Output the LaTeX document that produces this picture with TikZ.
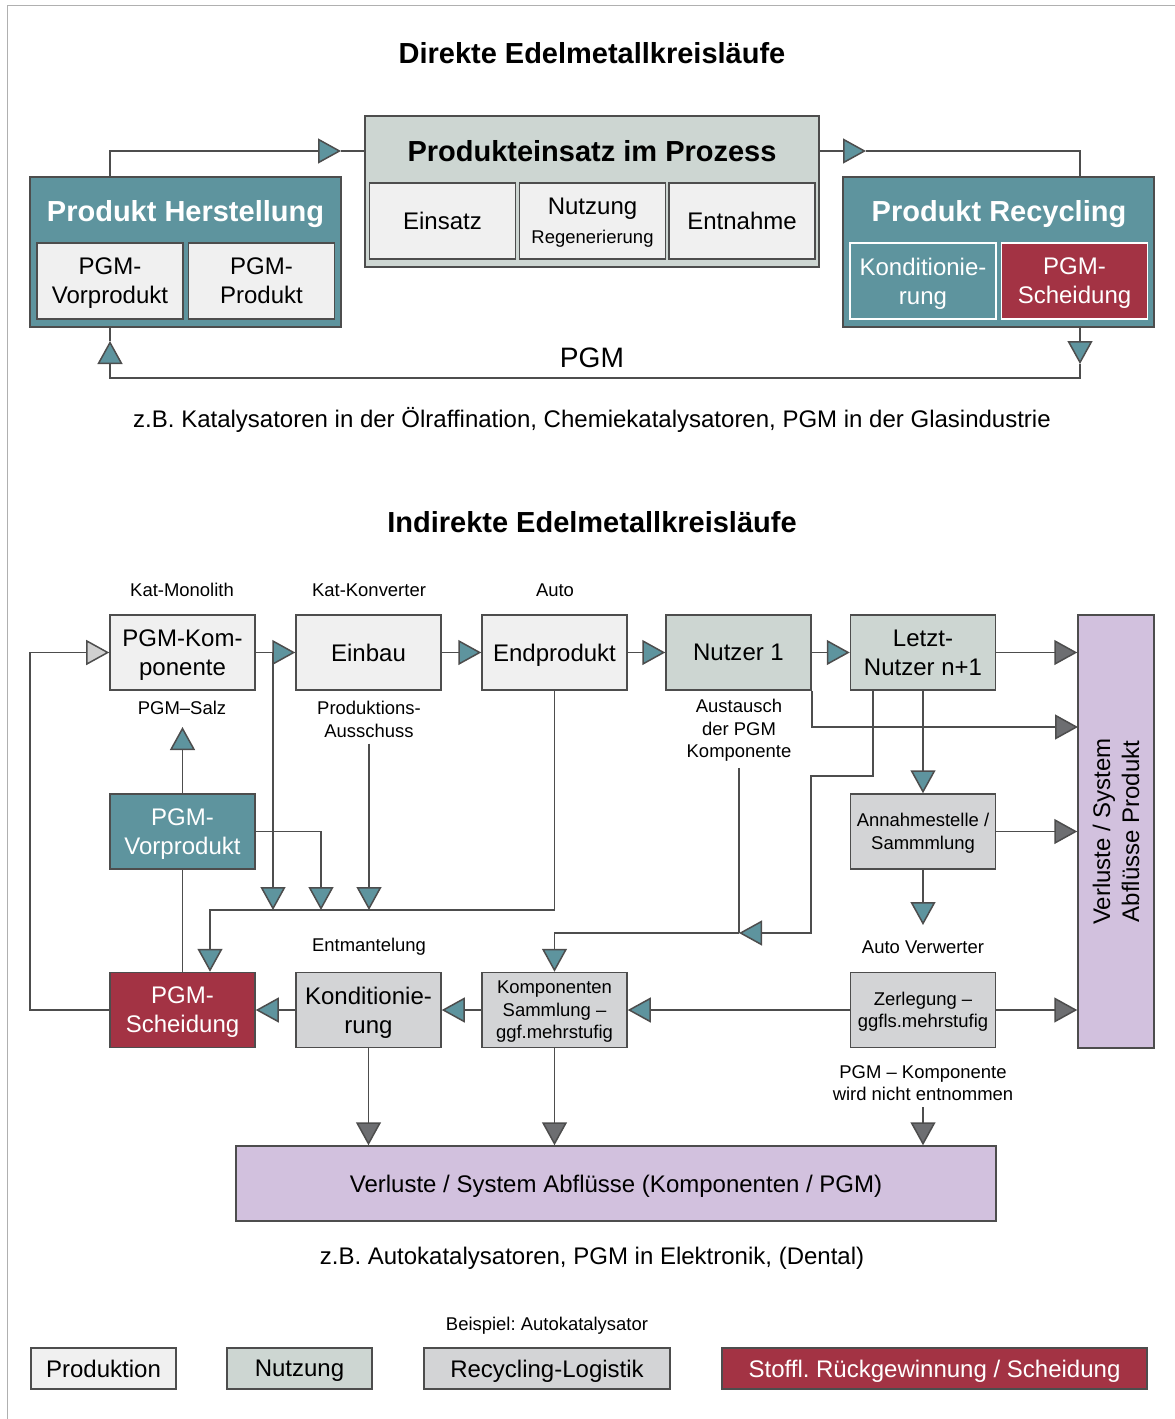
\documentclass[tikz,border=0pt]{standalone}
\usepackage{fontspec}
\setmainfont{Liberation Sans}
\frenchspacing
\definecolor{prodfill}{RGB}{240, 240, 240}
\definecolor{usefill}{RGB}{205, 214, 210}
\definecolor{logfill}{RGB}{211, 212, 214}
\definecolor{lossfill}{RGB}{210, 193, 222}
\definecolor{tealc}{RGB}{94, 148, 158}
\definecolor{redc}{RGB}{163, 51, 68}
\definecolor{linec}{RGB}{77, 77, 77}
\definecolor{tipgray}{RGB}{109, 110, 113}
\definecolor{tiplight}{RGB}{208, 208, 208}
\definecolor{framec}{RGB}{176, 176, 176}
\usepackage{tikz}
\usetikzlibrary{arrows.meta, positioning, calc}
\newcommand{\fhead}{\fontsize{16.5}{19.5}\selectfont\bfseries}
\newcommand{\fbody}{\fontsize{13.66}{16.5}\selectfont}
\newcommand{\fsmall}{\fontsize{10.5}{12.8}\selectfont}
\newcommand{\fpgm}{\fontsize{16}{19}\selectfont}
\tikzset{
    box/.style={rectangle, draw=linec, line width=0.3mm, minimum width=29mm, minimum height=15mm, align=center, inner sep=1pt, text depth=0pt, font=\fbody},
    prodbox/.style={box, fill=prodfill},
    usebox/.style={box, fill=usefill},
    logbox/.style={box, fill=logfill},
    prebox/.style={box, fill=tealc, text=white},
    sepbox/.style={box, fill=redc, text=white},
    lossbox/.style={box, fill=lossfill},
    head/.style={font=\fhead, align=center, text depth=0pt},
    lbl/.style={font=\fsmall, align=center},
    captext/.style={font=\fbody, align=center},
    conn/.style={draw=linec, line width=0.3mm},
    flow/.style={conn, -{Triangle[length=4.6mm, width=5mm, fill=tealc]}},
    lossflow/.style={conn, -{Triangle[length=4.6mm, width=5mm, fill=tipgray]}},
    backflow/.style={conn, -{Triangle[length=4.6mm, width=5mm, fill=tiplight]}}
}
\begin{document}
\begin{tikzpicture}[x=0.2mm, y=-0.2mm]
    \useasboundingbox (0,0) rectangle (1175,1419);
    % Frame
    \draw[framec, line width=0.35mm] (7.5,1419) -- (7.5,5.5) -- (1175,5.5);

    % Direct cycles
    \node[head] (title1) at (592,53) {Direkte Edelmetallkreisläufe};

    \node[prebox, minimum width=62.2mm, minimum height=30mm] (herst) at (185.5,252) {};
    \node[head, text=white] (hersttitle) at (185.5,211) {Produkt Herstellung};
    \node[prodbox, minimum width=29.2mm, minimum height=15.2mm] (hvor) at (110,281) {PGM-\\Vorprodukt};
    \node[prodbox, minimum width=29.2mm, minimum height=15.2mm] (hprod) at (261.5,281) {PGM-\\Produkt};

    \node[usebox, minimum width=90.8mm, minimum height=30.2mm] (proz) at (592,191.5) {};
    \node[head] (proztitle) at (592,151) {Produkteinsatz im Prozess};
    \node[prodbox, minimum width=29.2mm, minimum height=15.2mm] (einsatz) at (442.5,221) {Einsatz};
    \node[prodbox, minimum width=29.2mm, minimum height=15.2mm] (nutzung) at (592.5,221) {Nutzung\\{\fsmall Regenerierung}};
    \node[prodbox, minimum width=29.2mm, minimum height=15.2mm] (entnahme) at (742,221) {Entnahme};

    \node[prebox, minimum width=62.2mm, minimum height=30mm] (recyc) at (998.5,252) {};
    \node[head, text=white] (recyctitle) at (999,211) {Produkt Recycling};
    \node[prebox, draw=white, minimum width=29.2mm, minimum height=15.2mm] (rkond) at (923,281) {Konditionie-\\rung};
    \node[sepbox, draw=white, minimum width=29.2mm, minimum height=15.2mm] (rscheid) at (1074.5,281) {PGM-\\Scheidung};

    \coordinate (t1) at (341,151);
    \coordinate (t2) at (866,151);
    \coordinate (t3) at (1080,364);
    \coordinate (t4) at (110,341);
    \draw[flow] (hvor.north |- herst.north) |- (t1);
    \draw[conn] (t1) -- (t1 -| proz.west);
    \draw[flow] (t2 -| proz.east) -- (t2);
    \draw[conn] (t2) -| (t3 |- recyc.north);
    \draw[flow] (t3 |- recyc.south) -- (t3);
    \draw[flow] (t3) -- ++(0,14) -| (t4);
    \draw[conn] (t4) -- (t4 |- herst.south);

    \node[font=\fpgm] (pgm) at (592,358) {PGM};
    \node[captext] (cap1) at (592,420) {z.B. Katalysatoren in der Ölraffination, Chemiekatalysatoren, PGM in der Glasindustrie};

    % Indirect cycles
    \node[head] (title2) at (592,522) {Indirekte Edelmetallkreisläufe};

    \node[prodbox] (komp) at (182.5,652.5) {PGM-Kom-\\ponente};
    \node[prodbox] (einbau) at (368.5,652.5) {Einbau};
    \node[prodbox] (endp) at (554.5,652.5) {Endprodukt};
    \node[usebox] (nutz1) at (738.5,652.5) {Nutzer 1};
    \node[usebox] (letzt) at (923,652.5) {Letzt-\\Nutzer n+1};
    \node[lossbox, minimum width=15.2mm, minimum height=86.6mm] (verlv) at (1116,831.5) {};
    \node[rotate=90, font=\fbody, align=center] (verlvtext) at (verlv) {Verluste / System\\Abflüsse Produkt};

    \node[prebox] (vorp) at (182.5,831.5) {PGM-\\Vorprodukt};
    \node[logbox, font=\fsmall] (annahme) at (923,831.5) {Annahmestelle /\\Sammmlung};

    \node[sepbox] (scheid) at (182.5,1010) {PGM-\\Scheidung};
    \node[logbox] (kond) at (368.5,1010) {Konditionie-\\rung};
    \node[logbox, font=\fsmall] (ksamm) at (554.5,1010) {Komponenten\\Sammlung --\\ggf.mehrstufig};
    \node[logbox, font=\fsmall] (zerleg) at (923,1010) {Zerlegung --\\ggfls.mehrstufig};

    \node[lossbox, minimum width=152mm] (verlh) at (616,1183.5) {Verluste / System Abflüsse (Komponenten / PGM)};

    % Labels
    \node[lbl] (lmono) at (182,590) {Kat-Monolith};
    \node[lbl] (lkonv) at (369,590) {Kat-Konverter};
    \node[lbl] (lauto) at (555,590) {Auto};
    \node[lbl] (lsalz) at (182,708) {PGM--Salz};
    \node[lbl] (laus) at (369,719.5) {Produktions-\\Ausschuss};
    \node[lbl] (ltausch) at (739,730.5) {Austausch\\der PGM\\Komponente};
    \node[lbl] (lentm) at (369,947) {Entmantelung};
    \node[lbl] (lverw) at (923,947) {Auto Verwerter};
    \node[lbl] (lnicht) at (923,1083) {PGM -- Komponente\\wird nicht entnommen};
    \node[captext] (cap2) at (592,1258) {z.B. Autokatalysatoren, PGM in Elektronik, (Dental)};

    \coordinate (m0) at (210,910);
    \coordinate (m1) at (273,910);
    \coordinate (m2) at (321,910);
    \coordinate (m3) at (369,910);
    \coordinate (s1) at (182.5,727);
    \coordinate (v1) at (1078,727);
    \coordinate (k0) at (873,776);
    \coordinate (k1) at (811,776);
    \coordinate (k2) at (739,933);
    \coordinate (k3) at (923,925);

    % Arrows
    \draw[flow] (komp) -- (einbau);
    \draw[flow] (einbau) -- (endp);
    \draw[flow] (endp) -- (nutz1);
    \draw[flow] (nutz1) -- (letzt);
    \draw[lossflow] (letzt) -- (letzt -| verlv.west);
    \draw[lossflow] (nutz1.south east) |- (v1);
    \draw[flow] (letzt) -- (annahme);
    \draw[lossflow] (annahme) -- (annahme -| verlv.west);
    \draw[flow] (annahme) -- (k3);
    \draw[lossflow] (zerleg) -- (zerleg -| verlv.west);
    \draw[flow] (zerleg) -- (ksamm);
    \draw[flow] (ksamm) -- (kond);
    \draw[flow] (kond) -- (scheid);
    \draw[backflow] (scheid.west) -- ++(-79,0) |- (komp.west);
    \draw[flow] (vorp) -- (s1);
    \draw[conn] (vorp) -- (scheid);
    \draw[flow] (vorp.east) -| (m2);
    \draw[flow] (m1 |- komp.east) -- (m1);
    \draw[flow] (laus.south) -- (m3);
    \draw[flow] (endp) |- (m0) -- (m0 |- scheid.north);
    \draw[flow] (letzt.south -| k0) -- (k0) -- (k1) |- (k2);
    \draw[conn] (ltausch.south) -- (k2);
    \draw[flow] (k2) -| (ksamm.north);
    \draw[lossflow] (kond) -- (kond |- verlh.north);
    \draw[lossflow] (ksamm) -- (ksamm |- verlh.north);
    \draw[lossflow] (lnicht.south) -- (lnicht.south |- verlh.north);

    % Legend
    \node[lbl] (lbsp) at (547,1326) {Beispiel: Autokatalysator};
    \node[prodbox, minimum height=8.2mm] (lgprod) at (103.5,1368.5) {Produktion};
    \node[usebox, minimum height=8.2mm] (lgnutz) at (299.5,1368.5) {Nutzung};
    \node[logbox, minimum width=49.2mm, minimum height=8.2mm] (lglog) at (547,1368.5) {Recycling-Logistik};
    \node[sepbox, minimum width=85mm, minimum height=8.2mm] (lgsep) at (934.5,1368.5) {Stoffl. Rückgewinnung / Scheidung};
\end{tikzpicture}
\end{document}
